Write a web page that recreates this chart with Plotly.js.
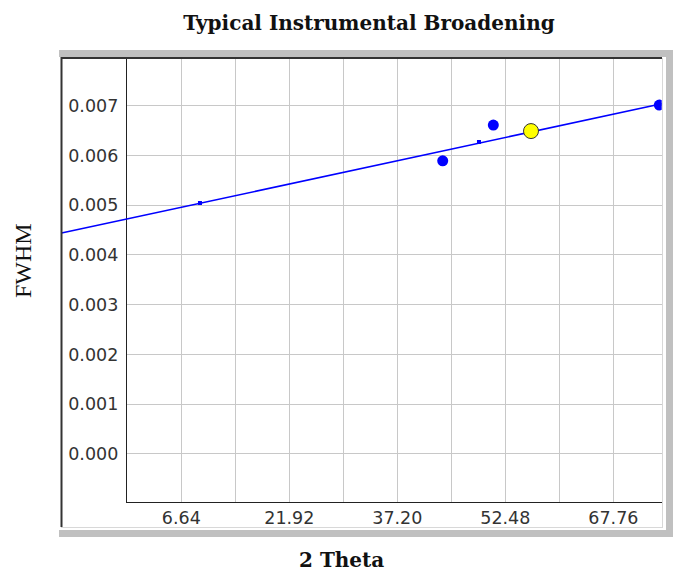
<!DOCTYPE html>
<html>
<head>
<meta charset="utf-8">
<script src="https://cdn.plot.ly/plotly-3.0.1.min.js"></script>
<style>
  html, body { margin: 0; padding: 0; background: #ffffff; }
  #chart { width: 673px; height: 573px; }
</style>
</head>
<body>
<div id="chart"></div>
<script>
// ---- data ----
const pointX = [43.62, 50.78, 74.26];
const pointY = [0.005894, 0.006612, 0.007014];
const selectedX = [56.11];
const selectedY = [0.006491];
const fitX = [-10.3, 74.6];
const fitY = [0.00444, 0.00704];
const fitMarkX = [9.28, 48.75];
const fitMarkY = [0.005044, 0.00627];
const xTickLabels = ['6.64', '21.92', '37.20', '52.48', '67.76'];
const yTickLabels = ['0.000', '0.001', '0.002', '0.003', '0.004', '0.005', '0.006', '0.007'];
const xRange = [-1, 74.6];
const yRange = [-0.00096, 0.00796];
const titleText = 'Typical Instrumental Broadening';
const xTitleText = '2 Theta';
const yTitleText = 'FWHM';

// ---- layout geometry (pixels) ----
const W = 673, H = 573;
const plotL = 127.3, plotR = 661.7, plotT = 58, plotB = 501.7, frameL = 61;
const fx = p => p / W;
const fy = p => 1 - p / H;

const xTickVals = xTickLabels.map(Number);
const yTickVals = yTickLabels.map(Number);
const pxPerUnit = (plotR - plotL) / (xRange[1] - xRange[0]);
const x2Range = [xRange[0] - (plotL - frameL) / pxPerUnit, xRange[1]];

const tickFont = { family: 'DejaVu Sans', size: 17.5, color: '#333333' };
const gridColor = '#c8c8c8';

const traces = [
  // empty trace so the gridded main subplot is created
  { x: [], y: [], xaxis: 'x', yaxis: 'y', mode: 'markers', hoverinfo: 'skip' },
  { x: fitX, y: fitY, xaxis: 'x2', yaxis: 'y2', mode: 'lines',
    line: { color: '#0000ff', width: 1.5 }, hoverinfo: 'skip' },
  { x: fitMarkX, y: fitMarkY, xaxis: 'x2', yaxis: 'y2', mode: 'markers',
    marker: { color: '#0000ff', size: 4, symbol: 'square' }, hoverinfo: 'skip' },
  { x: pointX, y: pointY, xaxis: 'x2', yaxis: 'y2', mode: 'markers',
    marker: { color: '#0000ff', size: 11, symbol: 'circle' } },
  { x: selectedX, y: selectedY, xaxis: 'x2', yaxis: 'y2', mode: 'markers',
    marker: { color: '#ffff00', size: 15, symbol: 'circle', line: { color: '#333333', width: 1 } } }
];

const shapes = [
  // gray shadow bands
  { type: 'rect', xref: 'paper', yref: 'paper', x0: fx(59), x1: fx(673), y0: fy(57), y1: fy(50),
    fillcolor: '#c0c0c0', line: { width: 0 }, layer: 'below' },
  { type: 'rect', xref: 'paper', yref: 'paper', x0: fx(666), x1: fx(673), y0: fy(537), y1: fy(50),
    fillcolor: '#c0c0c0', line: { width: 0 }, layer: 'below' },
  { type: 'rect', xref: 'paper', yref: 'paper', x0: fx(59), x1: fx(673), y0: fy(537), y1: fy(530),
    fillcolor: '#c0c0c0', line: { width: 0 }, layer: 'below' },
  // light bevel right and bottom
  { type: 'line', xref: 'paper', yref: 'paper', x0: fx(662.5), x1: fx(662.5), y0: fy(528), y1: fy(58),
    line: { color: '#d8d8d8', width: 1 } },
  { type: 'line', xref: 'paper', yref: 'paper', x0: fx(61), x1: fx(663), y0: fy(527.5), y1: fy(527.5),
    line: { color: '#d8d8d8', width: 1 } },
  // dark frame left and top
  { type: 'line', xref: 'paper', yref: 'paper', x0: fx(61.5), x1: fx(61.5), y0: fy(527), y1: fy(57),
    line: { color: '#333333', width: 2 } },
  { type: 'line', xref: 'paper', yref: 'paper', x0: fx(61), x1: fx(662), y0: fy(58), y1: fy(58),
    line: { color: '#333333', width: 2 } }
];

const layout = {
  width: W, height: H,
  margin: { l: 0, r: 0, t: 0, b: 0, pad: 0 },
  paper_bgcolor: '#ffffff',
  plot_bgcolor: 'rgba(0,0,0,0)',
  showlegend: false,
  title: {
    text: titleText, xref: 'paper', yref: 'paper',
    x: fx(369), xanchor: 'center', y: fy(23), yanchor: 'middle',
    font: { family: 'DejaVu Serif', size: 20, color: '#111111', weight: 'bold' }
  },
  xaxis: {
    domain: [fx(plotL), fx(plotR)], range: xRange, anchor: 'y',
    tickmode: 'array', tickvals: xTickVals, ticktext: xTickLabels,
    ticks: '', ticklabelstandoff: 0, tickfont: tickFont,
    showgrid: true, gridcolor: gridColor, gridwidth: 1,
    minor: { tickmode: 'linear', tick0: xTickVals[0], dtick: (xTickVals[1] - xTickVals[0]) / 2,
             showgrid: true, gridcolor: gridColor, gridwidth: 1, ticks: '' },
    showline: true, linecolor: '#222222', linewidth: 1.5, zeroline: false, fixedrange: true
  },
  yaxis: {
    domain: [fy(plotB), fy(plotT)], range: yRange, anchor: 'x',
    tickmode: 'array', tickvals: yTickVals, ticktext: yTickLabels,
    ticks: '', ticklabelstandoff: 4, tickfont: tickFont,
    showgrid: true, gridcolor: gridColor, gridwidth: 1,
    showline: true, linecolor: '#222222', linewidth: 1.5, zeroline: false, fixedrange: true
  },
  xaxis2: {
    domain: [fx(frameL), fx(plotR)], range: x2Range, anchor: 'y2',
    visible: false, showgrid: false, zeroline: false, fixedrange: true
  },
  yaxis2: {
    domain: [fy(plotB), fy(plotT)], range: yRange, anchor: 'x2',
    visible: false, showgrid: false, zeroline: false, fixedrange: true
  },
  shapes: shapes,
  annotations: [
    { text: xTitleText, xref: 'paper', yref: 'paper', x: fx(341), y: 0,
      xanchor: 'center', yanchor: 'bottom', showarrow: false, borderpad: 0,
      font: { family: 'DejaVu Serif', size: 20, color: '#111111', weight: 'bold' } },
    { text: yTitleText, xref: 'paper', yref: 'paper', x: fx(23), y: fy(260),
      xanchor: 'center', yanchor: 'middle', showarrow: false, textangle: -90,
      font: { family: 'Liberation Serif', size: 24, color: '#111111' } }
  ]
};

Plotly.newPlot('chart', traces, layout, { displayModeBar: false, staticPlot: true });
</script>
</body>
</html>
